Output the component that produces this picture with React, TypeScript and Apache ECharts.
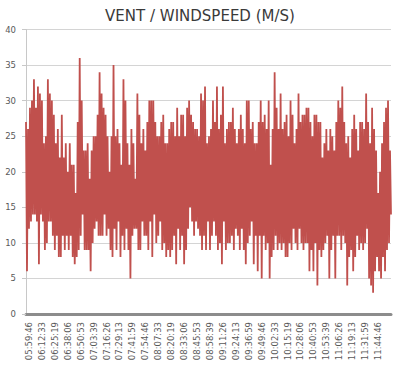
import React, { useEffect, useRef } from "react";
import * as echarts from "echarts";

const TITLE = "VENT / WINDSPEED (M/S)";

const TICK_LABELS = [
  "05:59:46", "06:12:33", "06:25:19", "06:38:06", "06:50:53", "07:03:39", "07:16:26",
  "07:29:13", "07:41:59", "07:54:46", "08:07:33", "08:20:19", "08:33:06", "08:45:53",
  "08:58:39", "09:11:26", "09:24:13", "09:36:59", "09:49:46", "10:02:33", "10:15:19",
  "10:28:06", "10:40:53", "10:53:39", "11:06:26", "11:19:13", "11:31:59", "11:44:46",
];

// Peaks (upper envelope) and troughs (lower envelope)
const HIGHS_1 = [27, 26, 29, 30, 33, 29, 32, 31, 30, 24, 25, 33, 31, 30, 28, 24, 26, 22, 28, 22, 24, 20, 24, 21, 21, 17, 27, 36, 30, 23, 23, 24, 19, 23, 25, 25, 28];
const LOWS_1 = [6, 12, 13, 14, 14, 13, 7, 14, 13, 9, 10, 13, 13, 11, 9, 11, 8, 8, 11, 9, 11, 9, 11, 8, 7, 8, 9, 11, 14, 9, 9, 9, 6, 10, 12, 13, 11];
const HIGHS_2 = [34, 31, 29, 28, 25, 20, 25, 35, 25, 26, 24, 21, 33, 30, 24, 21, 26, 24, 19, 31, 28, 24, 26, 23, 27, 30, 30, 30, 27, 25, 25, 27, 28, 24, 24, 26, 27];
const LOWS_2 = [11, 11, 14, 11, 12, 9, 8, 12, 9, 13, 8, 11, 9, 12, 9, 5, 11, 12, 12, 9, 9, 13, 11, 11, 9, 13, 8, 14, 10, 11, 13, 9, 10, 8, 9, 8, 9];
const HIGHS_3 = [27, 25, 29, 25, 28, 28, 25, 29, 30, 28, 27, 26, 26, 25, 31, 30, 32, 24, 25, 26, 30, 27, 32, 26, 28, 32, 24, 26, 27, 27, 29, 26, 24, 26, 28, 26, 24];
const LOWS_3 = [11, 7, 12, 9, 11, 7, 9, 12, 15, 13, 11, 13, 12, 11, 9, 11, 9, 13, 9, 11, 13, 11, 9, 10, 7, 13, 9, 10, 10, 11, 9, 12, 11, 9, 12, 9, 7];
const HIGHS_4 = [30, 30, 26, 27, 24, 24, 27, 30, 27, 28, 26, 30, 21, 26, 34, 29, 26, 31, 26, 27, 28, 25, 30, 28, 24, 26, 31, 27, 28, 28, 29, 29, 27, 25, 28, 28, 27];
const LOWS_4 = [10, 11, 13, 7, 11, 6, 11, 5, 11, 9, 10, 5, 8, 9, 11, 9, 10, 9, 10, 8, 8, 10, 9, 12, 10, 9, 12, 10, 9, 10, 10, 6, 9, 6, 10, 4, 9];
const HIGHS_5 = [27, 22, 24, 26, 23, 26, 25, 23, 27, 30, 29, 32, 27, 24, 25, 22, 26, 28, 26, 23, 27, 27, 26, 31, 27, 24, 29, 26, 23, 17, 20, 24, 27, 29, 30, 23];
const LOWS_5 = [8, 9, 10, 11, 5, 9, 11, 5, 11, 11, 9, 11, 10, 4, 8, 9, 6, 8, 11, 9, 10, 9, 10, 12, 5, 4, 3, 6, 8, 6, 5, 8, 6, 9, 10, 14];

const Y_MIN = 0;
const Y_MAX = 40;
const Y_STEP = 5;
const LABEL_OFFSET = 3;
const SAMPLES_PER_LABEL = 13;

export default function App() {
  const ref = useRef<HTMLDivElement>(null);

  useEffect(() => {
    if (!ref.current) return;
    const highs = [...HIGHS_1, ...HIGHS_2, ...HIGHS_3, ...HIGHS_4, ...HIGHS_5];
    const lows = [...LOWS_1, ...LOWS_2, ...LOWS_3, ...LOWS_4, ...LOWS_5];
    const values: number[] = [];
    for (let i = 0; i < highs.length; i++) {
      values.push(highs[i]);
      values.push(lows[i]);
    }
    const cats = values.map((_, i) => {
      const k = i - LABEL_OFFSET;
      if (k >= 0 && k % SAMPLES_PER_LABEL === 0) {
        const idx = k / SAMPLES_PER_LABEL;
        return idx < TICK_LABELS.length ? TICK_LABELS[idx] : "";
      }
      return "";
    });

    const chart = echarts.init(ref.current, undefined, { renderer: "svg" });
    chart.setOption({
      animation: false,
      title: {
        text: TITLE,
        left: "center",
        top: 3,
        textStyle: {
          fontFamily: "DejaVu Sans",
          fontSize: 15,
          fontWeight: "normal",
          color: "#3a3a3a",
        },
      },
      grid: { left: 26, right: 9, top: 29.5, bottom: 58, containLabel: false },
      xAxis: {
        type: "category",
        data: cats,
        boundaryGap: false,
        axisLine: { show: true, lineStyle: { color: "#8c8c8c", width: 3 } },
        axisTick: { show: false },
        splitLine: { show: false },
        axisLabel: {
          rotate: 90,
          margin: 8,
          interval: (index: number) => {
            const k = index - LABEL_OFFSET;
            return k >= 0 && k % SAMPLES_PER_LABEL === 0 && k / SAMPLES_PER_LABEL < TICK_LABELS.length;
          },
          fontFamily: "DejaVu Sans",
          fontSize: 8.5,
          color: "#595959",
        },
      },
      yAxis: {
        type: "value",
        min: Y_MIN,
        max: Y_MAX,
        interval: Y_STEP,
        axisLine: { show: true, lineStyle: { color: "#c8c8c8", width: 1 } },
        axisTick: { show: true, length: 4, lineStyle: { color: "#c8c8c8" } },
        splitLine: { show: true, lineStyle: { color: "#d4d4d4", width: 1 } },
        axisLabel: {
          margin: 10,
          fontFamily: "DejaVu Sans",
          fontSize: 8.5,
          color: "#595959",
        },
      },
      series: [
        {
          type: "line",
          data: values,
          showSymbol: false,
          symbol: "none",
          lineStyle: { color: "#c0504d", width: 1.8, join: "miter", miterLimit: 2 },
          itemStyle: { color: "#c0504d" },
        },
      ],
    });
    return () => chart.dispose();
  }, []);

  return (
    <div
      ref={ref}
      style={{ position: "absolute", left: 0, top: 0, width: 400, height: 372 }}
    />
  );
}
